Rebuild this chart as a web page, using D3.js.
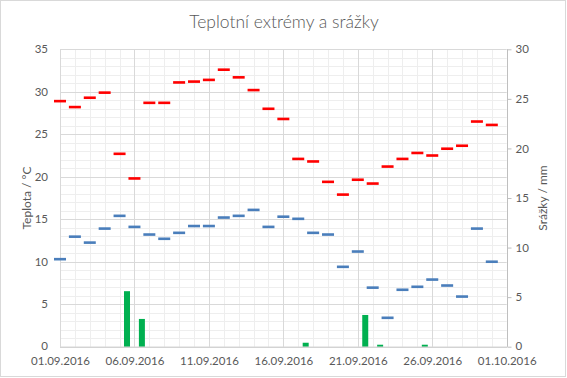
<!DOCTYPE html>
<html><head><meta charset="utf-8">
<script src="https://cdn.jsdelivr.net/npm/d3@7"></script>
<style>
html,body{margin:0;padding:0;background:#fff;}
text{font-family:Lato,"Open Sans",sans-serif;fill:#595959;}
</style></head>
<body><svg id="c" width="567" height="378"></svg>
<script>
const days = ["01.09.2016","02.09.2016","03.09.2016","04.09.2016","05.09.2016","06.09.2016","07.09.2016","08.09.2016","09.09.2016","10.09.2016",
"11.09.2016","12.09.2016","13.09.2016","14.09.2016","15.09.2016","16.09.2016","17.09.2016","18.09.2016","19.09.2016","20.09.2016",
"21.09.2016","22.09.2016","23.09.2016","24.09.2016","25.09.2016","26.09.2016","27.09.2016","28.09.2016","29.09.2016","30.09.2016"];
const tMax = [28.9,28.2,29.3,29.9,22.7,19.8,28.7,28.7,31.1,31.2,31.4,32.6,31.7,30.2,28.0,26.8,22.1,21.8,19.4,17.9,19.65,19.2,21.2,22.1,22.8,22.5,23.3,23.65,26.5,26.1];
const tMin = [10.3,12.95,12.25,13.9,15.4,14.1,13.2,12.7,13.4,14.2,14.2,15.2,15.4,16.1,14.1,15.3,15.05,13.4,13.2,9.4,11.2,6.95,3.4,6.7,7.05,7.9,7.2,5.9,13.9,10.0];
const precip = [0,0,0,0,5.6,2.8,0,0,0,0,0,0,0,0,0,0,0.4,0,0,0,3.2,0.2,0,0,0.2,0,0,0,0,0];
const xTickLabels = ["01.09.2016","06.09.2016","11.09.2016","16.09.2016","21.09.2016","26.09.2016","01.10.2016"];
const leftTicks = [0,5,10,15,20,25,30,35];
const rightTicks = [0,5,10,15,20,25,30];

const svg = d3.select("#c");
const parse = d3.utcParse("%d.%m.%Y");
const fmt = d3.utcFormat("%d.%m.%Y");
const L = 60, R = 506.7, T = 49.3, B = 346.7;
const x = d3.scaleUtc().domain([parse(xTickLabels[0]), parse(xTickLabels[xTickLabels.length-1])]).range([L, R]);
const yL = d3.scaleLinear().domain([0,35]).range([B, T]);
const yR = d3.scaleLinear().domain([0,30]).range([B, T]);

svg.append("rect").attr("x",0.5).attr("y",0.5).attr("width",565).attr("height",376)
  .attr("fill","#fff").attr("stroke","#d9d9d9");

// gridlines
const g = svg.append("g");
const allDays = d3.utcDay.range(x.domain()[0], d3.utcDay.offset(x.domain()[1],1));
const majorDays = xTickLabels.map(parse).map(d=>+d);
g.selectAll(".vmin").data(allDays.filter(d=>!majorDays.includes(+d))).join("line")
  .attr("x1",d=>Math.round(x(d))+0.5).attr("x2",d=>Math.round(x(d))+0.5).attr("y1",T).attr("y2",B)
  .attr("stroke","#eeeeee");
const minorY = d3.range(0,36).filter(v=>v%5!==0);
g.selectAll(".hmin").data(minorY).join("line")
  .attr("x1",L).attr("x2",R).attr("y1",d=>Math.round(yL(d))+0.5).attr("y2",d=>Math.round(yL(d))+0.5)
  .attr("stroke","#eeeeee");
g.selectAll(".hmaj").data(leftTicks.filter(v=>v>0)).join("line")
  .attr("x1",L).attr("x2",R).attr("y1",d=>Math.round(yL(d))+0.5).attr("y2",d=>Math.round(yL(d))+0.5)
  .attr("stroke","#d9d9d9");
g.selectAll(".vmaj").data(xTickLabels.map(parse)).join("line")
  .attr("x1",d=>Math.round(x(d))+0.5).attr("x2",d=>Math.round(x(d))+0.5).attr("y1",T).attr("y2",B)
  .attr("stroke","#d9d9d9");

// bars (precipitation) centered between days
const bw = 6;
svg.append("g").selectAll("rect").data(precip.map((v,i)=>({d:parse(days[i]),v})).filter(o=>o.v>0)).join("rect")
  .attr("x",o=>x(d3.utcHour.offset(o.d,12))-bw/2).attr("width",bw)
  .attr("y",o=>yR(o.v)).attr("height",o=>B-yR(o.v)).attr("fill","#00b050");

// dashes
const dw = 12, dh = 2.6;
svg.append("g").selectAll("rect").data(tMax.map((v,i)=>({d:parse(days[i]),v}))).join("rect")
  .attr("x",o=>x(o.d)-dw/2).attr("width",dw).attr("y",o=>yL(o.v)-dh/2).attr("height",dh).attr("fill","#ff0000");
svg.append("g").selectAll("rect").data(tMin.map((v,i)=>({d:parse(days[i]),v}))).join("rect")
  .attr("x",o=>x(o.d)-dw/2).attr("width",dw).attr("y",o=>yL(o.v)-dh/2).attr("height",dh).attr("fill","#4a7ebb");

// axes
const xAxis = d3.axisBottom(x).tickValues(xTickLabels.map(parse)).tickFormat(fmt).tickSize(0).tickPadding(10);
const gx = svg.append("g").attr("transform",`translate(0,${B})`).call(xAxis);
gx.select(".domain").attr("stroke","#bfbfbf").attr("d",`M${L},0.5H${R+0.5}`);
gx.selectAll("text").attr("font-size","11.5px").attr("fill","#595959");

const gl = svg.append("g").attr("transform",`translate(${L},0)`).call(d3.axisLeft(yL).tickValues(leftTicks).tickSize(0).tickPadding(12));
gl.select(".domain").remove();
gl.selectAll("text").attr("font-size","11.5px").attr("fill","#595959");
gl.selectAll(".tick").filter(d=>d===0).select("text").attr("dy","0.2em");

const gr = svg.append("g").attr("transform",`translate(${Math.round(R)+0.5},0)`).call(d3.axisRight(yR).tickValues(rightTicks).tickSize(4).tickPadding(4));
gr.select(".domain").attr("stroke","#bfbfbf").attr("d",`M0,${T}V${B}`);
gr.selectAll("line").attr("stroke","#bfbfbf");
gr.selectAll("text").attr("font-size","11.5px").attr("fill","#595959");
gr.selectAll(".tick").filter(d=>d===0).select("text").attr("dy","0.2em");

// titles
svg.append("text").attr("x",284).attr("y",28).attr("text-anchor","middle")
  .attr("font-size","17.5px").attr("font-weight","300").text("Teplotní extrémy a srážky");
svg.append("text").attr("transform",`translate(31,${(T+B)/2}) rotate(-90)`).attr("text-anchor","middle")
  .attr("font-size","12px").text("Teplota / °C");
svg.append("text").attr("transform",`translate(547,${(T+B)/2}) rotate(-90)`).attr("text-anchor","middle")
  .attr("font-size","12px").text("Srážky / mm");
</script></body></html>
